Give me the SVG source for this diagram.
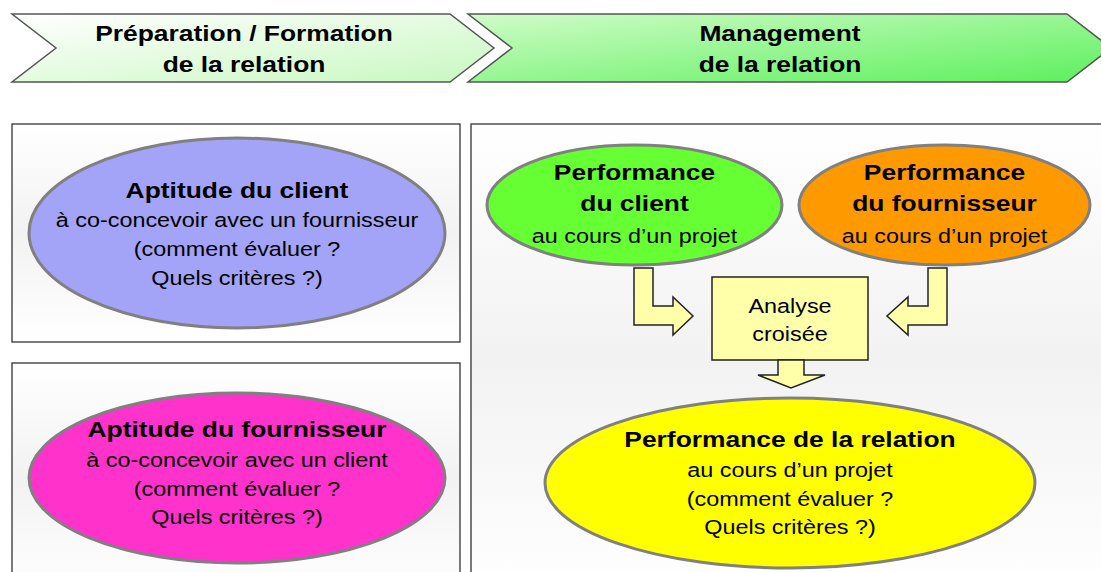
<svg xmlns="http://www.w3.org/2000/svg" width="1101" height="572" viewBox="0 0 1101 572">
<defs>
<linearGradient id="ch1" x1="0" y1="0" x2="1" y2="1">
<stop offset="0" stop-color="#ffffff"/><stop offset="1" stop-color="#c8f8c0"/>
</linearGradient>
<linearGradient id="ch2" x1="0" y1="0" x2="1" y2="1">
<stop offset="0" stop-color="#d0fcc8"/><stop offset="1" stop-color="#5cf05c"/>
</linearGradient>
<linearGradient id="bg" x1="0" y1="0" x2="0" y2="1">
<stop offset="0" stop-color="#ffffff"/><stop offset="0.5" stop-color="#f2f2f2"/><stop offset="1" stop-color="#ffffff"/>
</linearGradient>
<style>
.chev{stroke:#555;stroke-width:1.5}
.box{fill:url(#bg);stroke:#333;stroke-width:1.3}
.ell{stroke:#808080;stroke-width:3}
.arr{fill:#ffffaa;stroke:#222;stroke-width:1.5;stroke-linejoin:miter}
text{font-family:"Liberation Sans",Arial,sans-serif;fill:#000;text-anchor:middle}
.b{font-weight:bold;font-size:22px}
.r{font-size:19.5px}
</style>
</defs>
<rect width="1101" height="572" fill="#ffffff"/>
<g id="phase1">
<path class="chev" fill="url(#ch1)" d="M12,14 L450,14 L494,48 L450,82 L12,82 L56,48 Z"/>
<g transform="translate(244 0) scale(1.2 1)"><text class="b" x="0" y="41">Préparation / Formation</text><text class="b" x="0" y="72">de la relation</text></g>
</g>
<g id="phase2">
<path class="chev" fill="url(#ch2)" d="M468,14 L1067,14 L1111,48 L1067,82 L468,82 L512,48 Z"/>
<g transform="translate(780 0) scale(1.2 1)"><text class="b" x="0" y="41">Management</text><text class="b" x="0" y="72">de la relation</text></g>
</g>
<g id="frames">
<rect class="box" x="12" y="124" width="448" height="218"/>
<rect class="box" x="12" y="363" width="448" height="230"/>
<rect class="box" x="471" y="124" width="650" height="470"/>
</g>
<g id="aptitude-client">
<ellipse class="ell" cx="237" cy="233" rx="208" ry="95" fill="#a3a3f7"/>
<g transform="translate(237 0) scale(1.2 1)"><text class="b" x="0" y="198">Aptitude du client</text><text class="r" x="0" y="227">à co-concevoir avec un fournisseur</text><text class="r" x="0" y="256">(comment évaluer ?</text><text class="r" x="0" y="285">Quels critères ?)</text></g>
</g>
<g id="aptitude-fournisseur">
<ellipse class="ell" cx="237" cy="478" rx="208" ry="85" fill="#ff33cc"/>
<g transform="translate(237 0) scale(1.2 1)"><text class="b" x="0" y="437">Aptitude du fournisseur</text><text class="r" x="0" y="467">à co-concevoir avec un client</text><text class="r" x="0" y="496">(comment évaluer ?</text><text class="r" x="0" y="524">Quels critères ?)</text></g>
</g>
<g id="perf-client">
<ellipse class="ell" cx="634.5" cy="205" rx="147.5" ry="60" fill="#66ff33"/>
<g transform="translate(634.5 0) scale(1.2 1)"><text class="b" x="0" y="180">Performance</text><text class="b" x="0" y="211">du client</text><text class="r" x="0" y="243">au cours d’un projet</text></g>
</g>
<g id="perf-fournisseur">
<ellipse class="ell" cx="944.5" cy="205" rx="145.5" ry="60" fill="#ff9900"/>
<g transform="translate(944.5 0) scale(1.2 1)"><text class="b" x="0" y="180">Performance</text><text class="b" x="0" y="211">du fournisseur</text><text class="r" x="0" y="243">au cours d’un projet</text></g>
</g>
<g id="analyse">
<rect class="arr" x="712" y="277" width="156" height="83"/>
<g transform="translate(790 0) scale(1.2 1)"><text class="r" x="0" y="313">Analyse</text><text class="r" x="0" y="341">croisée</text></g>
</g>
<g id="perf-relation">
<ellipse class="ell" cx="790" cy="483" rx="245" ry="85" fill="#ffff00"/>
<g transform="translate(790 0) scale(1.2 1)"><text class="b" x="0" y="447">Performance de la relation</text><text class="r" x="0" y="477">au cours d’un projet</text><text class="r" x="0" y="506">(comment évaluer ?</text><text class="r" x="0" y="534">Quels critères ?)</text></g>
</g>
<g id="connectors">
<path class="arr" d="M634,268 L653,268 L653,306 L673,306 L673,297 L693,316 L673,335 L673,325 L634,325 Z"/>
<path class="arr" d="M947,268 L928,268 L928,306 L908,306 L908,297 L887,316 L908,335 L908,325 L947,325 Z"/>
<path class="arr" d="M778,360 L804,360 L804,375 L825,375 L791,388 L758,375 L778,375 Z"/>
</g>
</svg>
